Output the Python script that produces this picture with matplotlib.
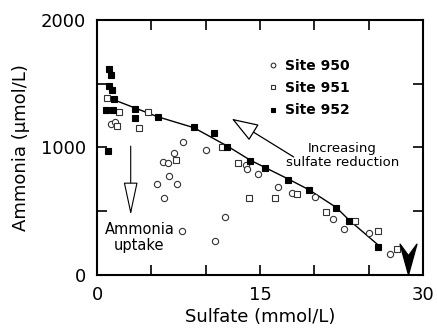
import numpy as np
import matplotlib.pyplot as plt
from matplotlib.path import Path

plt.rcParams['font.family'] = ['DejaVu Sans']

#%% data

# Site 950 (open circles)
s950_x = [1.25, 1.65, 7.9, 7.1, 6.05, 6.5, 6.6, 5.5, 7.35, 6.15, 7.8, 10.0, 10.9,
          11.8, 13.7, 13.8, 14.8, 16.7, 17.9, 20.1, 21.7, 22.7, 25.0, 27.0]
s950_y = [1182, 1198, 1046, 955, 889, 876, 778, 711, 715, 607, 345, 980, 267,
          457, 862, 830, 790, 692, 641, 610, 439, 360, 332, 160]

# Site 951 (open squares)
s951_x = [0.95, 2.0, 1.85, 3.9, 4.7, 7.3, 11.5, 13.0, 14.0, 16.4, 18.4, 21.1,
          23.7, 25.9, 27.6]
s951_y = [1386, 1281, 1171, 1150, 1281, 900, 1000, 876, 601, 601, 633, 494,
          423, 345, 206]

# Site 952 (filled squares)
s952_x = [1.1, 1.3, 1.1, 1.35, 1.55, 0.8, 1.5, 3.5, 3.5, 5.6, 8.9, 1.0, 10.8,
          12.0, 14.1, 15.5, 17.6, 19.5, 22.0, 23.2, 25.9]
s952_y = [1615, 1570, 1480, 1450, 1378, 1290, 1295, 1305, 1230, 1235, 1158, 975,
          1110, 1000, 895, 838, 745, 668, 528, 423, 222]

# trend line through site 952
trend_x = [1.5, 5.6, 8.9, 12.0, 14.1, 17.6, 19.5, 22.0, 23.2, 26.0]
trend_y = [1375, 1240, 1155, 1010, 900, 752, 668, 530, 430, 225]

# bottom-water sulfate marker
bw_x = [28.6]
bw_y = [122]

#%% plotting

fig = plt.figure(figsize=(4.37, 3.32), dpi=100)
ax = fig.add_axes([0.222, 0.172, 0.746, 0.768])

ax.plot(trend_x, trend_y, color='black', lw=1.0, zorder=2)
ax.plot(s950_x, s950_y, 'o', ms=4.5, mfc='white', mec='#333333', mew=0.8,
        label='Site 950', zorder=3)
ax.plot(s951_x, s951_y, 's', ms=4.8, mfc='white', mec='#333333', mew=0.8,
        label='Site 951', zorder=3)
ax.plot(s952_x, s952_y, 's', ms=4.8, mfc='black', mec='black', mew=0.8,
        label='Site 952', zorder=4)

# notched arrowhead pointing down
vmark = Path([(-0.55, 1.0), (0.0, 0.25), (0.55, 1.0), (0.0, -1.0), (-0.55, 1.0)],
             [Path.MOVETO, Path.LINETO, Path.LINETO, Path.LINETO, Path.CLOSEPOLY])
ax.plot(bw_x, bw_y, marker=vmark, ms=22, color='black', clip_on=False, zorder=5)

# arrows and notes
ax.annotate('', xy=(12.4, 1225), xytext=(18.1, 925),
            arrowprops=dict(arrowstyle='-|>,head_length=1.7,head_width=0.6',
                            fc='white', ec='black', lw=0.9, shrinkA=0, shrinkB=0))
ax.text(22.6, 935, 'Increasing\nsulfate reduction', ha='center', va='center',
        fontsize=9.5, linespacing=1.15)

ax.annotate('', xy=(3.1, 470), xytext=(3.1, 1010),
            arrowprops=dict(arrowstyle='-|>,head_length=2.1,head_width=0.45',
                            fc='white', ec='black', lw=0.8, shrinkA=0, shrinkB=0))
ax.text(3.9, 295, 'Ammonia\nuptake', ha='center', va='center',
        fontsize=10.5, linespacing=1.05)

ax.set_xlim(0, 30)
ax.set_ylim(0, 2000)
ax.set_xticks(np.arange(0, 31, 5))
ax.set_xticklabels(['0', '', '', '15', '', '', '30'])
ax.set_yticks([0, 500, 1000, 1500, 2000])
ax.set_yticklabels(['0', '', '1000', '', '2000'])
ax.tick_params(direction='in', length=7, width=1.2, top=True, right=True,
               labelsize=13, pad=8)
for s in ax.spines.values():
    s.set_linewidth(1.5)

ax.set_xlabel('Sulfate (mmol/L)', fontsize=13, labelpad=3)
ax.set_ylabel('Ammonia (µmol/L)', fontsize=13, labelpad=8)

leg = ax.legend(loc='upper left', bbox_to_anchor=(0.50, 0.875), frameon=False,
                handlelength=0.8, handletextpad=0.5, labelspacing=0.6,
                borderpad=0, markerscale=0.75, prop=dict(size=10, weight='bold'))

plt.savefig('out.png', dpi=100)
